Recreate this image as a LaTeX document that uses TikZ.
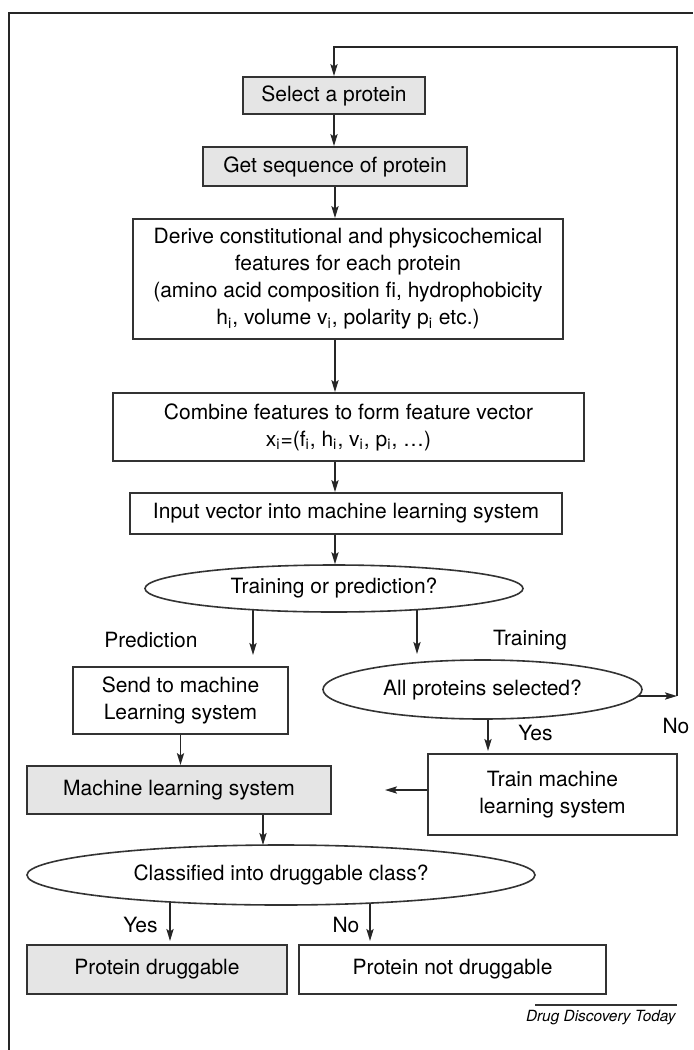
\documentclass[tikz,border=0pt]{standalone}
\usepackage{fontspec}
\setmainfont{TeX Gyre Heros}
\usetikzlibrary{shapes.geometric, arrows.meta, backgrounds}
\begin{document}
\begin{tikzpicture}[x=0.5pt, y=-0.5pt,
  every node/.style={font=\fontsize{10.5pt}{13.5pt}\selectfont, text=black},
  boxnode/.style={draw=black!80, line width=0.9pt, inner sep=0pt, align=center},
  graybox/.style={boxnode, fill=black!10},
  oval/.style={ellipse, draw=black!80, fill=white, line width=0.8pt, inner sep=0pt, align=center},
  arr/.style={draw=black!85, line width=0.8pt, -{Stealth[length=6pt, width=3.6pt, inset=1.2pt]}},
  lbl/.style={inner sep=0pt}]

\useasboundingbox (0,0) rectangle (693,1050);

% frame
\draw[line width=1pt, black!85] (9,1050) -- (9,13) -- (693,13);

% process chain
\node[graybox, minimum width=91pt, minimum height=18.5pt] (sel) at (334,95.5) {Select a protein};
\node[graybox, minimum width=132pt, minimum height=19.5pt] (seq) at (335,166.5) {Get sequence of protein};
\node[boxnode, minimum width=215pt, minimum height=60pt] (der) at (348,279)
  {Derive constitutional and physicochemical\\features for each protein\\(amino acid composition fi, hydrophobicity\\h\textsubscript{i}, volume v\textsubscript{i}, polarity p\textsubscript{i} etc.)};
\node[boxnode, minimum width=235.5pt, minimum height=34pt] (comb) at (348.5,427)
  {Combine features to form feature vector\\x\textsubscript{i}=(f\textsubscript{i}, h\textsubscript{i}, v\textsubscript{i}, p\textsubscript{i}, \ldots)};
\node[boxnode, minimum width=216pt, minimum height=20.5pt] (inp) at (346,513.5) {Input vector into machine learning system};
\node[oval, minimum width=189pt, minimum height=23.5pt] (tp) at (334,588.5) {Training or prediction?};

% prediction branch
\node[boxnode, minimum width=107.5pt, minimum height=33.5pt] (send) at (180.5,700.5) {Send to machine\\Learning system};
\node[graybox, minimum width=152pt, minimum height=24pt] (mls) at (179,790) {Machine learning system};
\node[oval, minimum width=254pt, minimum height=30pt] (cls) at (281,875) {Classified into druggable class?};
\node[graybox, minimum width=130pt, minimum height=24.5pt] (pd) at (157,969.5) {Protein druggable};
\node[boxnode, minimum width=153.5pt, minimum height=24.5pt] (pnd) at (452.5,969.5) {Protein not druggable};

% training branch
\node[oval, minimum width=159.5pt, minimum height=29.5pt] (aps) at (482.5,689.5) {All proteins selected?};
\node[boxnode, minimum width=124.5pt, minimum height=40.5pt] (trn) at (552.5,794.5) {Train machine\\learning system};

% labels
\node[lbl] (lpred) at (151,640) {Prediction};
\node[lbl] (ltrain) at (530,640) {Training};
\node[lbl] (lno1) at (676,726) {No};
\node[lbl] (lyes1) at (535.5,733) {Yes};
\node[lbl] (lyes2) at (140.5,925) {Yes};
\node[lbl] (lno2) at (346,925) {No};

% connector end points
\coordinate (pe) at (253,655);
\coordinate (te) at (417,654);
\coordinate (ye) at (488,751);
\coordinate (ae) at (385,790);
\coordinate (ce) at (263,845);
\coordinate (yd) at (170,941);
\coordinate (nd) at (370,941);
\coordinate (nocorner) at (677,696);
\coordinate (looptop) at (677,47);

% main chain arrows
\draw[arr] (sel.south) -- (sel.south |- seq.north);
\draw[arr] (seq.south) -- (seq.south |- der.north);
\draw[arr] (seq.south |- der.south) -- (seq.south |- comb.north);
\draw[arr] (seq.south |- comb.south) -- (seq.south |- inp.north);
\draw[arr] (seq.south |- inp.south) -- (seq.south |- tp.north);

\draw[arr] (send.south) -- (send.south |- mls.north);
\draw[arr] (trn.west |- ae) -- (ae);
\draw[arr] (mls.south -| ce) -- (ce);

% arrows leaving the ovals start inside them, under the white fill
\begin{pgfonlayer}{background}
\draw[arr] (pe |- tp.center) -- (pe);
\draw[arr] (te |- tp.center) -- (te);
\draw[arr] (ye |- aps.center) -- (ye);
\draw[arr] (yd |- cls.center) -- (yd);
\draw[arr] (nd |- cls.center) -- (nd);
\draw[arr] (aps.center |- nocorner) -- (nocorner);
\end{pgfonlayer}

% loop back to protein selection
\draw[arr] (nocorner) -- (looptop) -| (sel.north);

% source line
\coordinate (srcl) at (535,1005);
\coordinate (srcr) at (677,1005);
\draw[line width=0.6pt, black!80] (srcl) -- (srcr);
\node[lbl, anchor=east, font=\fontsize{7.7pt}{9pt}\selectfont\itshape] (src) at (676,1018) {Drug Discovery Today};
\end{tikzpicture}
\end{document}
